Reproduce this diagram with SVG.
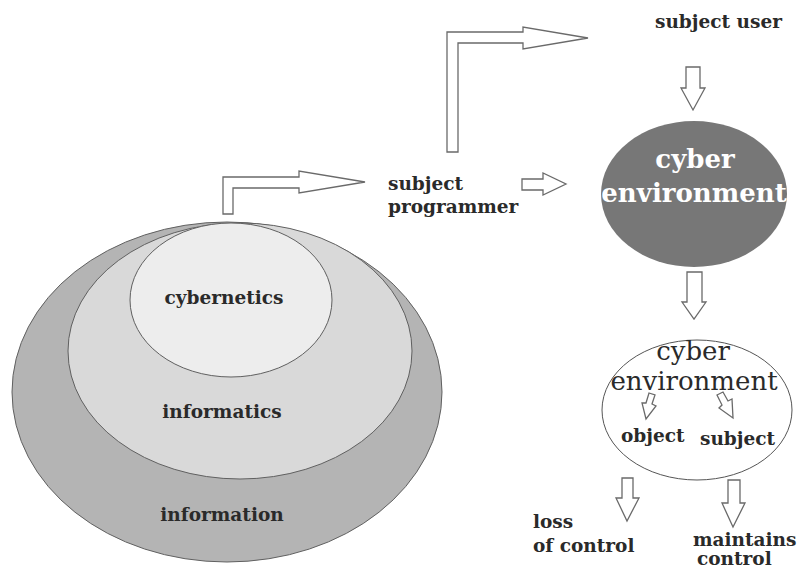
<svg xmlns="http://www.w3.org/2000/svg" width="803" height="570" viewBox="0 0 803 570">
<style>
.lbl{font-family:"DejaVu Serif","Liberation Serif",serif;font-weight:bold;fill:#2a2a2a;font-size:18.5px}
.big{font-family:"DejaVu Serif","Liberation Serif",serif;font-weight:bold;fill:#ffffff;font-size:26px}
.thin{font-family:"DejaVu Serif","Liberation Serif",serif;fill:#2a2a2a;font-size:26px}
.arr{fill:#ffffff;stroke:#6a6a6a;stroke-width:1.3}
.ring{stroke:#606060;stroke-width:1}
</style>
<rect width="803" height="570" fill="#ffffff"/>
<g id="information">
<ellipse class="ring" cx="227" cy="392" rx="215" ry="170" fill="#b4b4b4"/>
<text class="lbl" x="222" y="521" text-anchor="middle">information</text>
</g>
<g id="informatics">
<ellipse class="ring" cx="240" cy="351" rx="172" ry="128" fill="#d9d9d9"/>
<text class="lbl" x="222" y="418" text-anchor="middle">informatics</text>
</g>
<g id="cybernetics">
<ellipse class="ring" cx="231" cy="300" rx="101" ry="77" fill="#ededed"/>
<text class="lbl" x="224" y="304" text-anchor="middle">cybernetics</text>
</g>
<g id="subject-programmer">
<text class="lbl" x="388" y="190">subject</text>
<text class="lbl" x="388" y="213">programmer</text>
</g>
<g id="subject-user">
<text class="lbl" x="655" y="28">subject user</text>
</g>
<g id="cyber-environment-dark">
<ellipse cx="694" cy="194" rx="93" ry="73" fill="#777777"/>
<text class="big" x="695" y="168" text-anchor="middle">cyber</text>
<text class="big" x="694" y="202" text-anchor="middle">environment</text>
</g>
<g id="cyber-environment">
<ellipse cx="697" cy="410" rx="95" ry="70" fill="#ffffff" stroke="#555" stroke-width="1"/>
<text class="thin" x="693" y="360" text-anchor="middle">cyber</text>
<text class="thin" x="694" y="390" text-anchor="middle">environment</text>
<text class="lbl" x="621" y="442">object</text>
<text class="lbl" x="700" y="445">subject</text>
</g>
<g id="loss-of-control">
<text class="lbl" x="533" y="528">loss</text>
<text class="lbl" x="533" y="552">of control</text>
</g>
<g id="maintains-control">
<text class="lbl" x="693" y="546">maintains</text>
<text class="lbl" x="697" y="565">control</text>
</g>
<g id="connectors">
<path class="arr" d="M223,214 L223,177 L299,177 L299,171 L365,182 L299,193 L299,188 L233,188 L233,214 Z"/>
<path class="arr" d="M447,152 L447,32 L523,32 L523,27 L588,38 L523,49 L523,43 L458,43 L458,152 Z"/>
<path class="arr" d="M522,179 L543,179 L543,173 L566,184 L543,195 L543,190 L522,190 Z"/>
<path class="arr" d="M686,67 L700,67 L700,88 L705,88 L693,110 L681,88 L686,88 Z"/>
<path class="arr" d="M687,272 L702,272 L702,302 L706,302 L694,319 L682,302 L687,302 Z"/>
<path class="arr" d="M649,393 L655,395 L652,404 L656,406 L646,419 L642,403 L646,403 Z"/>
<path class="arr" d="M717,395 L723,392 L728,401 L732,399 L733,418 L719,408 L722,405 Z"/>
<path class="arr" d="M622,478 L633,478 L633,498 L639,498 L627,521 L616,498 L622,498 Z"/>
<path class="arr" d="M728,480 L740,480 L740,503 L745,503 L733,527 L722,503 L728,503 Z"/>
</g>
</svg>
